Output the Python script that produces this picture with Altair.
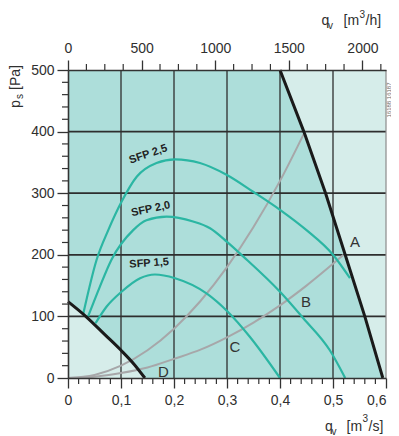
import altair as alt
import pandas as pd

# ---------------- data ----------------
a_q = [0.400, 0.445, 0.486, 0.523, 0.560, 0.594]
a_p = [500, 400, 300, 200, 100, 0]
d_q = [0.000, 0.035, 0.070, 0.100, 0.125, 0.145]
d_p = [124, 99, 70, 45, 22, 0]

sfp25_q = [0.029, 0.054, 0.076, 0.101, 0.130, 0.167, 0.202, 0.249, 0.299, 0.350, 0.400, 0.450, 0.500, 0.532]
sfp25_p = [105, 192, 240, 286, 327, 349, 355, 349, 330, 302, 273, 240, 200, 162]
sfp20_q = [0.038, 0.060, 0.082, 0.123, 0.148, 0.186, 0.236, 0.268, 0.300, 0.331, 0.400, 0.444, 0.494, 0.523]
sfp20_p = [100, 148, 192, 240, 256, 262, 254, 243, 221, 197, 140, 97, 45, 0]
sfp15_q = [0.052, 0.073, 0.101, 0.136, 0.164, 0.202, 0.262, 0.301, 0.343, 0.400]
sfp15_p = [89, 116, 140, 162, 168, 162, 137, 108, 67, 0]

sys1_q = [0, 0.05, 0.10, 0.15, 0.20, 0.25, 0.30, 0.35, 0.40, 0.447]
sys1_p = [0, 5, 20, 45, 80, 125, 180, 245, 320, 400]
sys2_q = [0, 0.05, 0.10, 0.15, 0.20, 0.25, 0.30, 0.35, 0.40, 0.45, 0.52]
sys2_p = [0, 2, 8, 17, 31, 46, 66, 90, 118, 150, 200]

curve_labels = ["A", "B", "C", "D"]
curve_label_q = [0.5415, 0.449, 0.315, 0.180]
curve_label_p = [221, 124, 50, 9]

sfp_labels = ["SFP 2,5", "SFP 2,0", "SFP 1,5"]
sfp_label_q = [0.1515, 0.156, 0.153]
sfp_label_p = [363, 274, 186]
sfp_label_angle = [341, 348, 356]

x_major = [0, 0.1, 0.2, 0.3, 0.4, 0.5, 0.6]
x_minor = [0.02, 0.04, 0.06, 0.08, 0.12, 0.14, 0.16, 0.18, 0.22, 0.24, 0.26, 0.28,
           0.32, 0.34, 0.36, 0.38, 0.42, 0.44, 0.46, 0.48, 0.52, 0.54, 0.56, 0.58]
y_major = [0, 100, 200, 300, 400, 500]
y_minor = [20, 40, 60, 80, 120, 140, 160, 180, 220, 240, 260, 280,
           320, 340, 360, 380, 420, 440, 460, 480]
top_major = [0, 500, 1000, 1500, 2000]
top_minor = [125, 250, 375, 625, 750, 875, 1125, 1250, 1375, 1625, 1750, 1875, 2125]
x_grid = [0.1, 0.2, 0.3, 0.4, 0.5]
y_grid = [100, 200, 300, 400]

# ---------------- styling ----------------
W, H = 318, 308
FONT = "Liberation Sans"
LIGHT = "#d6edea"
DARK = "#addeda"
TEAL = "#2bb6a3"
GREY = "#a7a7a9"
BLACK = "#1a1a1a"
GRID = "#2e2e2e"
TXT = "#2f2f2f"

xs = alt.Scale(domain=[0, 0.6], nice=False, zero=False)
ys = alt.Scale(domain=[0, 500], nice=False)


def X(f, axis=alt.Undefined):
    return alt.X(f, type="quantitative", scale=xs, axis=axis)


def Y(f, axis=alt.Undefined):
    return alt.Y(f, type="quantitative", scale=ys, axis=axis)


def curve_df(qs, ps):
    return pd.DataFrame({"q": qs, "p": ps})


one = pd.DataFrame({"k": [0]})


def txt(s, px, py, size=14, **kw):
    align = kw.pop("align", "left")
    baseline = kw.pop("baseline", "alphabetic")
    color = kw.pop("color", TXT)
    return alt.Chart(one).mark_text(
        text=s, fontSize=size, font=FONT, color=color, align=align, baseline=baseline, **kw
    ).encode(x=alt.value(px), y=alt.value(py))


layers = []

# background regions
top_df = curve_df([0.0] + a_q, [500] + a_p)
layers.append(alt.Chart(top_df).mark_area(color=DARK, opacity=1).encode(
    x=X("q"), y=Y("p").stack(None)))
layers.append(alt.Chart(curve_df(d_q, d_p)).mark_area(color=LIGHT, opacity=1).encode(
    x=X("q"), y=Y("p").stack(None)))

# grid (these layers also carry the axes)
layers.append(alt.Chart(pd.DataFrame({"g": x_grid})).mark_rule(color=GRID, strokeWidth=1.3).encode(
    x=X("g", alt.Axis(values=x_major, tickSize=10, tickColor="#333", tickWidth=1.3,
                      domainColor="#333", domainWidth=1.6, labelFont=FONT, labelFontSize=14,
                      labelColor=TXT, labelPadding=5, grid=False, title=None, zindex=1,
                      labelFlush=False, labelOverlap=False,
                      labelAlign={"condition": {"test": "datum.value >= 0.6", "value": "right"},
                                  "value": "center"},
                      labelExpr="datum.value == 0 ? '0' : replace(format(datum.value, '.1f'), '.', ',')"))))
layers.append(alt.Chart(pd.DataFrame({"g": y_grid})).mark_rule(color=GRID, strokeWidth=1.8).encode(
    y=Y("g", alt.Axis(values=y_major, tickSize=11, tickColor="#333", tickWidth=1.3,
                      domainColor="#333", domainWidth=1.6, labelFont=FONT, labelFontSize=14,
                      labelColor=TXT, labelPadding=3, grid=False, title=None, zindex=1, format="d",
                      labelFlush=False, labelOverlap=False))))
layers.append(alt.Chart(one).mark_rule(color="#8a8a8a", strokeWidth=1.2).encode(x=alt.datum(0.6)))

# minor ticks
layers.append(alt.Chart(pd.DataFrame({"t": x_minor})).mark_rule(color="#333", strokeWidth=1.2).encode(
    x=X("t"), y=alt.value(H), y2=alt.value(H + 6)))
layers.append(alt.Chart(pd.DataFrame({"t": y_minor})).mark_rule(color="#333", strokeWidth=1.2).encode(
    y=Y("t"), x=alt.value(-6), x2=alt.value(0)))

# system curves (grey)
for qs, ps in [(sys1_q, sys1_p), (sys2_q, sys2_p)]:
    layers.append(alt.Chart(curve_df(qs, ps)).mark_line(color=GREY, strokeWidth=2, interpolate="monotone").encode(
        x=X("q"), y=Y("p"), order="q:Q"))

# SFP curves (teal)
for qs, ps in [(sfp25_q, sfp25_p), (sfp20_q, sfp20_p), (sfp15_q, sfp15_p)]:
    layers.append(alt.Chart(curve_df(qs, ps)).mark_line(color=TEAL, strokeWidth=2.2, interpolate="monotone").encode(
        x=X("q"), y=Y("p"), order="q:Q"))

# fan limit curves (black)
layers.append(alt.Chart(curve_df(a_q, a_p)).mark_line(color=BLACK, strokeWidth=3).encode(
    x=X("q"), y=Y("p"), order="q:Q"))
layers.append(alt.Chart(curve_df(d_q, d_p)).mark_line(color=BLACK, strokeWidth=3, interpolate="monotone").encode(
    x=X("q"), y=Y("p"), order="q:Q"))

# curve letters
lab_df = pd.DataFrame({"t": curve_labels, "q": curve_label_q, "p": curve_label_p})
layers.append(alt.Chart(lab_df).mark_text(font=FONT, fontSize=15, color="#333", align="center",
                                          baseline="middle").encode(x=X("q"), y=Y("p"), text="t:N"))

# SFP labels
for s, q, p, ang in zip(sfp_labels, sfp_label_q, sfp_label_p, sfp_label_angle):
    d = pd.DataFrame({"t": [s], "q": [q], "p": [p]})
    layers.append(alt.Chart(d).mark_text(font=FONT, fontSize=11, fontWeight="bold", color="#222",
                                         align="center", baseline="middle", angle=ang).encode(
        x=X("q"), y=Y("p"), text="t:N"))

# axis titles (with sub/superscripts)
layers += [
    txt("q", 257, 361), txt("v", 263.5, 365, 10), txt("[m", 278.5, 361), txt("3", 294.5, 352, 10), txt("/s]", 300.5, 361),
    txt("q", 253.5, -45), txt("v", 260, -41, 10), txt("[m", 275.5, -45), txt("3", 291.5, -52, 10), txt("/h]", 297.5, -45),
    txt("p", -48, 38, angle=270), txt("s", -45, 29, 10, angle=270), txt("[Pa]", -48, 20, angle=270),
    txt("16188   16187", 321, 30, 6, angle=270, align="center", baseline="middle", color="#666"),
]

main = alt.layer(*layers)

# top axis in m3/h
ts = alt.Scale(domain=[0, 2160], nice=False, zero=False)
top = alt.Chart(pd.DataFrame({"t": top_minor})).mark_rule(color="#333", strokeWidth=1.2).encode(
    x=alt.X("t:Q", scale=ts, axis=alt.Axis(orient="top", values=top_major, tickSize=10, tickColor="#333",
                                           tickWidth=1.3, domainColor="#333", domainWidth=1.6,
                                           labelFont=FONT, labelFontSize=14, labelColor=TXT,
                                           labelPadding=5, grid=False, title=None, format="d", zindex=1,
                                           labelFlush=False, labelOverlap=False)),
    y=alt.value(-6), y2=alt.value(0))

chart = alt.layer(main, top).resolve_scale(x="independent").properties(
    width=W, height=H,
    padding={"left": 60, "top": 62, "right": 5, "bottom": 58},
    autosize=alt.AutoSizeParams(type="none"),
).configure_view(fill=LIGHT, stroke=None)

chart.save("out.html", embed_options={"renderer": "svg", "actions": False})
